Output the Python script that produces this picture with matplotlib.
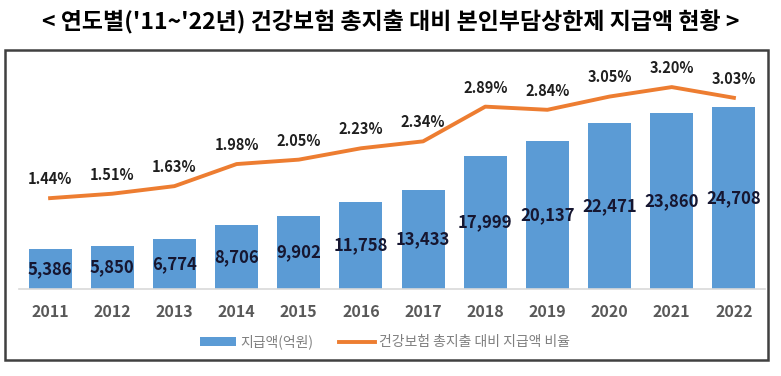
import matplotlib.pyplot as plt
from matplotlib.patches import Rectangle, Patch
from matplotlib.lines import Line2D

plt.rcParams['font.family'] = ['Noto Sans CJK KR', 'DejaVu Sans']

years = ['2011', '2012', '2013', '2014', '2015', '2016',
         '2017', '2018', '2019', '2020', '2021', '2022']
amounts = [5386, 5850, 6774, 8706, 9902, 11758,
           13433, 17999, 20137, 22471, 23860, 24708]
ratios = [1.44, 1.51, 1.63, 1.98, 2.05, 2.23,
          2.34, 2.89, 2.84, 3.05, 3.20, 3.03]

bar_color = '#5B9BD5'
line_color = '#ED7D31'

fig = plt.figure(figsize=(7.81, 3.76), dpi=100)

# title
fig.text(0.5, 0.94, "< 연도별('11~'22년) 건강보험 총지출 대비 본인부담상한제 지급액 현황 >",
         ha='center', va='center', fontsize=16.5, fontweight='bold', color='black')

# outer frame
fig.patches.append(Rectangle((5 / 781, 16 / 376), 763 / 781, 310 / 376,
                             transform=fig.transFigure, fill=False,
                             edgecolor='#404040', linewidth=1.8))

ax = fig.add_axes([19 / 781, 87 / 376, 746 / 781, 224 / 376])
x = list(range(len(years)))
ax.bar(x, amounts, width=0.69, color=bar_color, zorder=2)
ax.set_xlim(-0.5, len(years) - 0.5)
ax.set_ylim(0, 30400)
for xi, v in zip(x, amounts):
    ax.text(xi, v / 2, f'{v:,}', ha='center', va='center', fontsize=12,
            fontweight='bold', color='#161630', zorder=4)

ax.set_yticks([])
ax.set_xticks(x)
ax.set_xticklabels(years, fontsize=11.5, fontweight='bold', color='#595959')
ax.tick_params(axis='x', length=0, pad=11)
for s in ['top', 'right', 'left']:
    ax.spines[s].set_visible(False)
ax.spines['bottom'].set_color('#d9d9d9')
ax.spines['bottom'].set_linewidth(1.2)

ax2 = ax.twinx()
ax2.plot(x, ratios, color=line_color, linewidth=2.8, zorder=3)
ax2.set_ylim(0, 3.55)
ax2.set_yticks([])
for s in ['top', 'right', 'left', 'bottom']:
    ax2.spines[s].set_visible(False)
for xi, r in zip(x, ratios):
    ax2.annotate(f'{r:.2f}%', (xi, r), xytext=(0, 8), textcoords='offset points',
                 ha='center', va='bottom', fontsize=10.5, fontweight='bold',
                 color='#1f1f1f')

handles = [Patch(facecolor=bar_color, edgecolor='none'),
           Line2D([0], [0], color=line_color, linewidth=2.8)]
labels = ['지급액(억원)', '건강보험 총지출 대비 지급액 비율']
fig.legend(handles, labels, loc='center', bbox_to_anchor=(0.493, 34 / 376),
           ncol=2, frameon=False, fontsize=10, labelcolor='#7f7f7f',
           handlelength=2.6, handleheight=0.6, columnspacing=1.8, handletextpad=0.3)

fig.savefig('out.png', dpi=100)
